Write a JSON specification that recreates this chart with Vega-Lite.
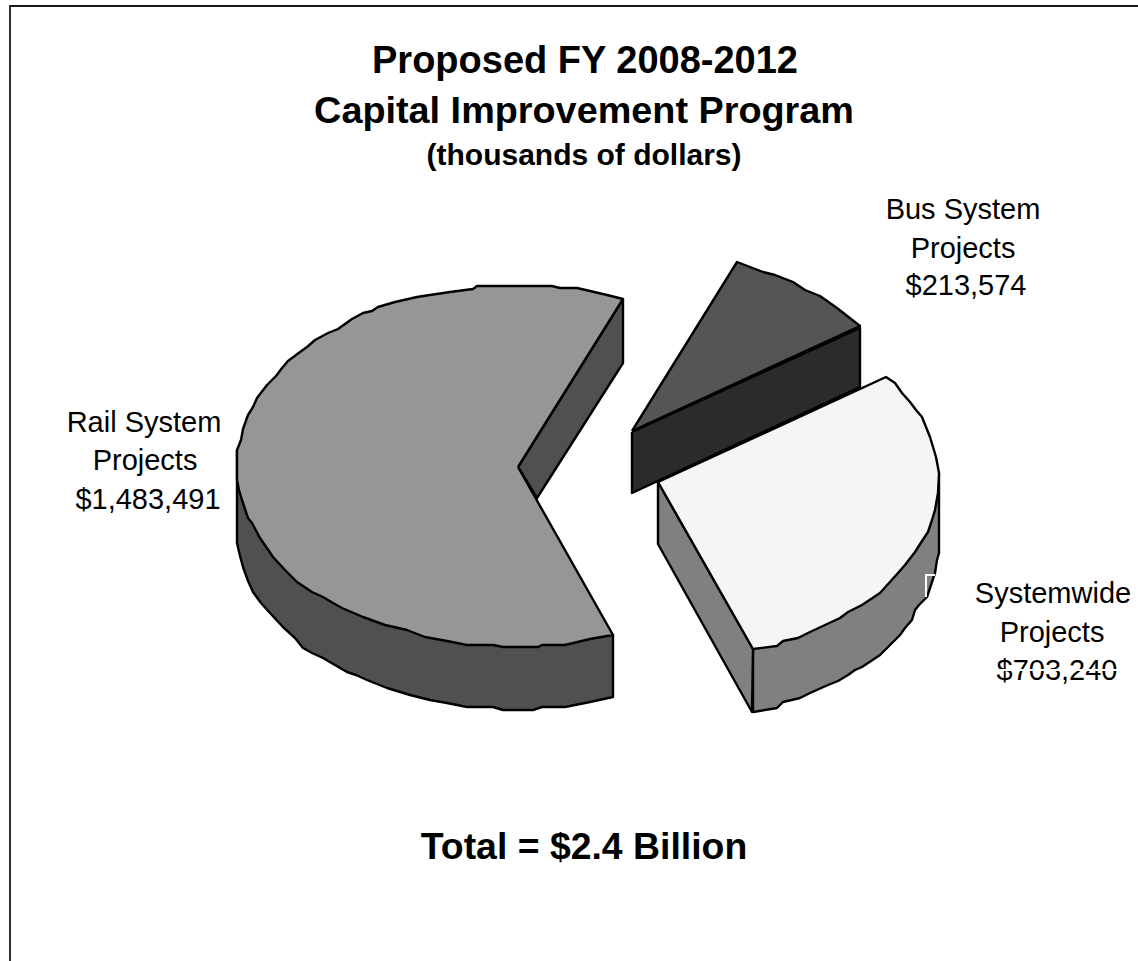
{
  "$schema": "https://vega.github.io/schema/vega-lite/v6.json",
  "autosize": "none",
  "width": 1138,
  "height": 961,
  "padding": 0,
  "background": "white",
  "view": {"stroke": null},
  "datasets": {
    "faces": [
      {"face": "railOuter", "i": 1, "x": 237, "y": 450},
      {"face": "railOuter", "i": 2, "x": 237, "y": 543},
      {"face": "railOuter", "i": 3, "x": 240, "y": 556},
      {"face": "railOuter", "i": 4, "x": 243, "y": 567},
      {"face": "railOuter", "i": 5, "x": 248, "y": 581},
      {"face": "railOuter", "i": 6, "x": 253, "y": 592},
      {"face": "railOuter", "i": 7, "x": 261, "y": 603},
      {"face": "railOuter", "i": 8, "x": 270, "y": 613},
      {"face": "railOuter", "i": 9, "x": 283, "y": 627},
      {"face": "railOuter", "i": 10, "x": 295, "y": 638},
      {"face": "railOuter", "i": 11, "x": 303, "y": 648},
      {"face": "railOuter", "i": 12, "x": 312, "y": 653},
      {"face": "railOuter", "i": 13, "x": 323, "y": 658},
      {"face": "railOuter", "i": 14, "x": 335, "y": 665},
      {"face": "railOuter", "i": 15, "x": 347, "y": 672},
      {"face": "railOuter", "i": 16, "x": 356, "y": 675},
      {"face": "railOuter", "i": 17, "x": 367, "y": 680},
      {"face": "railOuter", "i": 18, "x": 387, "y": 688},
      {"face": "railOuter", "i": 19, "x": 397, "y": 691},
      {"face": "railOuter", "i": 20, "x": 410, "y": 695},
      {"face": "railOuter", "i": 21, "x": 430, "y": 700},
      {"face": "railOuter", "i": 22, "x": 447, "y": 703},
      {"face": "railOuter", "i": 23, "x": 467, "y": 707},
      {"face": "railOuter", "i": 24, "x": 493, "y": 707},
      {"face": "railOuter", "i": 25, "x": 503, "y": 710},
      {"face": "railOuter", "i": 26, "x": 533, "y": 710},
      {"face": "railOuter", "i": 27, "x": 542, "y": 707},
      {"face": "railOuter", "i": 28, "x": 565, "y": 707},
      {"face": "railOuter", "i": 29, "x": 590, "y": 702},
      {"face": "railOuter", "i": 30, "x": 613, "y": 697},
      {"face": "railOuter", "i": 31, "x": 613, "y": 635},
      {"face": "railOuter", "i": 32, "x": 237, "y": 450},

      {"face": "railInner", "i": 1, "x": 623, "y": 299},
      {"face": "railInner", "i": 2, "x": 623, "y": 363},
      {"face": "railInner", "i": 3, "x": 537, "y": 498},
      {"face": "railInner", "i": 4, "x": 518, "y": 467},
      {"face": "railInner", "i": 5, "x": 623, "y": 299},

      {"face": "railTop", "i": 1, "x": 518, "y": 467},
      {"face": "railTop", "i": 2, "x": 623, "y": 299},
      {"face": "railTop", "i": 3, "x": 607, "y": 295},
      {"face": "railTop", "i": 4, "x": 590, "y": 291},
      {"face": "railTop", "i": 5, "x": 577, "y": 288},
      {"face": "railTop", "i": 6, "x": 560, "y": 288},
      {"face": "railTop", "i": 7, "x": 552, "y": 286},
      {"face": "railTop", "i": 8, "x": 477, "y": 286},
      {"face": "railTop", "i": 9, "x": 473, "y": 289},
      {"face": "railTop", "i": 10, "x": 450, "y": 292},
      {"face": "railTop", "i": 11, "x": 430, "y": 295},
      {"face": "railTop", "i": 12, "x": 417, "y": 297},
      {"face": "railTop", "i": 13, "x": 395, "y": 302},
      {"face": "railTop", "i": 14, "x": 378, "y": 307},
      {"face": "railTop", "i": 15, "x": 372, "y": 311},
      {"face": "railTop", "i": 16, "x": 363, "y": 313},
      {"face": "railTop", "i": 17, "x": 352, "y": 319},
      {"face": "railTop", "i": 18, "x": 338, "y": 329},
      {"face": "railTop", "i": 19, "x": 328, "y": 333},
      {"face": "railTop", "i": 20, "x": 315, "y": 340},
      {"face": "railTop", "i": 21, "x": 307, "y": 347},
      {"face": "railTop", "i": 22, "x": 300, "y": 352},
      {"face": "railTop", "i": 23, "x": 288, "y": 361},
      {"face": "railTop", "i": 24, "x": 282, "y": 368},
      {"face": "railTop", "i": 25, "x": 276, "y": 376},
      {"face": "railTop", "i": 26, "x": 267, "y": 385},
      {"face": "railTop", "i": 27, "x": 257, "y": 398},
      {"face": "railTop", "i": 28, "x": 253, "y": 407},
      {"face": "railTop", "i": 29, "x": 248, "y": 415},
      {"face": "railTop", "i": 30, "x": 243, "y": 429},
      {"face": "railTop", "i": 31, "x": 241, "y": 440},
      {"face": "railTop", "i": 32, "x": 237, "y": 450},
      {"face": "railTop", "i": 33, "x": 237, "y": 480},
      {"face": "railTop", "i": 34, "x": 239, "y": 490},
      {"face": "railTop", "i": 35, "x": 242, "y": 500},
      {"face": "railTop", "i": 36, "x": 248, "y": 518},
      {"face": "railTop", "i": 37, "x": 252, "y": 523},
      {"face": "railTop", "i": 38, "x": 260, "y": 538},
      {"face": "railTop", "i": 39, "x": 273, "y": 557},
      {"face": "railTop", "i": 40, "x": 285, "y": 570},
      {"face": "railTop", "i": 41, "x": 297, "y": 582},
      {"face": "railTop", "i": 42, "x": 312, "y": 592},
      {"face": "railTop", "i": 43, "x": 323, "y": 597},
      {"face": "railTop", "i": 44, "x": 333, "y": 603},
      {"face": "railTop", "i": 45, "x": 342, "y": 608},
      {"face": "railTop", "i": 46, "x": 363, "y": 617},
      {"face": "railTop", "i": 47, "x": 385, "y": 625},
      {"face": "railTop", "i": 48, "x": 407, "y": 630},
      {"face": "railTop", "i": 49, "x": 425, "y": 637},
      {"face": "railTop", "i": 50, "x": 447, "y": 641},
      {"face": "railTop", "i": 51, "x": 467, "y": 645},
      {"face": "railTop", "i": 52, "x": 493, "y": 645},
      {"face": "railTop", "i": 53, "x": 503, "y": 647},
      {"face": "railTop", "i": 54, "x": 538, "y": 647},
      {"face": "railTop", "i": 55, "x": 542, "y": 645},
      {"face": "railTop", "i": 56, "x": 565, "y": 645},
      {"face": "railTop", "i": 57, "x": 590, "y": 639},
      {"face": "railTop", "i": 58, "x": 613, "y": 635},
      {"face": "railTop", "i": 59, "x": 518, "y": 467},

      {"face": "busFront", "i": 1, "x": 632, "y": 432},
      {"face": "busFront", "i": 2, "x": 860, "y": 328},
      {"face": "busFront", "i": 3, "x": 860, "y": 387},
      {"face": "busFront", "i": 4, "x": 632, "y": 493},
      {"face": "busFront", "i": 5, "x": 632, "y": 432},

      {"face": "busTop", "i": 1, "x": 632, "y": 431},
      {"face": "busTop", "i": 2, "x": 737, "y": 262},
      {"face": "busTop", "i": 3, "x": 763, "y": 272},
      {"face": "busTop", "i": 4, "x": 775, "y": 275},
      {"face": "busTop", "i": 5, "x": 793, "y": 282},
      {"face": "busTop", "i": 6, "x": 805, "y": 290},
      {"face": "busTop", "i": 7, "x": 820, "y": 296},
      {"face": "busTop", "i": 8, "x": 837, "y": 308},
      {"face": "busTop", "i": 9, "x": 860, "y": 326},
      {"face": "busTop", "i": 10, "x": 632, "y": 431},

      {"face": "sysOuter", "i": 1, "x": 939, "y": 473},
      {"face": "sysOuter", "i": 2, "x": 939, "y": 553},
      {"face": "sysOuter", "i": 3, "x": 937, "y": 560},
      {"face": "sysOuter", "i": 4, "x": 935, "y": 573},
      {"face": "sysOuter", "i": 5, "x": 931, "y": 585},
      {"face": "sysOuter", "i": 6, "x": 927, "y": 597},
      {"face": "sysOuter", "i": 7, "x": 919, "y": 605},
      {"face": "sysOuter", "i": 8, "x": 915, "y": 610},
      {"face": "sysOuter", "i": 9, "x": 912, "y": 620},
      {"face": "sysOuter", "i": 10, "x": 905, "y": 628},
      {"face": "sysOuter", "i": 11, "x": 900, "y": 635},
      {"face": "sysOuter", "i": 12, "x": 890, "y": 645},
      {"face": "sysOuter", "i": 13, "x": 880, "y": 655},
      {"face": "sysOuter", "i": 14, "x": 862, "y": 667},
      {"face": "sysOuter", "i": 15, "x": 855, "y": 670},
      {"face": "sysOuter", "i": 16, "x": 848, "y": 675},
      {"face": "sysOuter", "i": 17, "x": 838, "y": 681},
      {"face": "sysOuter", "i": 18, "x": 828, "y": 685},
      {"face": "sysOuter", "i": 19, "x": 810, "y": 693},
      {"face": "sysOuter", "i": 20, "x": 800, "y": 698},
      {"face": "sysOuter", "i": 21, "x": 783, "y": 702},
      {"face": "sysOuter", "i": 22, "x": 777, "y": 708},
      {"face": "sysOuter", "i": 23, "x": 753, "y": 712},
      {"face": "sysOuter", "i": 24, "x": 753, "y": 649},
      {"face": "sysOuter", "i": 25, "x": 939, "y": 473},

      {"face": "sysInner", "i": 1, "x": 658, "y": 482},
      {"face": "sysInner", "i": 2, "x": 658, "y": 544},
      {"face": "sysInner", "i": 3, "x": 752, "y": 712},
      {"face": "sysInner", "i": 4, "x": 753, "y": 649},
      {"face": "sysInner", "i": 5, "x": 658, "y": 482},

      {"face": "sysTop", "i": 1, "x": 658, "y": 482},
      {"face": "sysTop", "i": 2, "x": 886, "y": 377},
      {"face": "sysTop", "i": 3, "x": 895, "y": 383},
      {"face": "sysTop", "i": 4, "x": 902, "y": 393},
      {"face": "sysTop", "i": 5, "x": 910, "y": 402},
      {"face": "sysTop", "i": 6, "x": 916, "y": 410},
      {"face": "sysTop", "i": 7, "x": 922, "y": 417},
      {"face": "sysTop", "i": 8, "x": 926, "y": 427},
      {"face": "sysTop", "i": 9, "x": 930, "y": 437},
      {"face": "sysTop", "i": 10, "x": 936, "y": 457},
      {"face": "sysTop", "i": 11, "x": 939, "y": 473},
      {"face": "sysTop", "i": 12, "x": 938, "y": 493},
      {"face": "sysTop", "i": 13, "x": 935, "y": 510},
      {"face": "sysTop", "i": 14, "x": 932, "y": 520},
      {"face": "sysTop", "i": 15, "x": 928, "y": 532},
      {"face": "sysTop", "i": 16, "x": 922, "y": 541},
      {"face": "sysTop", "i": 17, "x": 915, "y": 552},
      {"face": "sysTop", "i": 18, "x": 905, "y": 565},
      {"face": "sysTop", "i": 19, "x": 898, "y": 573},
      {"face": "sysTop", "i": 20, "x": 889, "y": 583},
      {"face": "sysTop", "i": 21, "x": 880, "y": 593},
      {"face": "sysTop", "i": 22, "x": 862, "y": 605},
      {"face": "sysTop", "i": 23, "x": 848, "y": 612},
      {"face": "sysTop", "i": 24, "x": 840, "y": 618},
      {"face": "sysTop", "i": 25, "x": 825, "y": 625},
      {"face": "sysTop", "i": 26, "x": 810, "y": 632},
      {"face": "sysTop", "i": 27, "x": 798, "y": 638},
      {"face": "sysTop", "i": 28, "x": 783, "y": 641},
      {"face": "sysTop", "i": 29, "x": 777, "y": 646},
      {"face": "sysTop", "i": 30, "x": 753, "y": 649},
      {"face": "sysTop", "i": 31, "x": 658, "y": 482}
    ],
    "strokes": [
      {"name": "frame", "i": 1, "x": 10, "y": 961},
      {"name": "frame", "i": 2, "x": 10, "y": 6},
      {"name": "frame", "i": 3, "x": 1138, "y": 6},
      {"name": "boxCorner", "i": 1, "x": 935, "y": 575},
      {"name": "boxCorner", "i": 2, "x": 926, "y": 575},
      {"name": "boxCorner", "i": 3, "x": 926, "y": 597},
      {"name": "labelRule", "i": 1, "x": 985, "y": 670},
      {"name": "labelRule", "i": 2, "x": 1120, "y": 670}
    ],
    "labels": [
      {"text": "Proposed FY 2008-2012", "x": 585, "y": 73, "size": 38, "weight": "bold"},
      {"text": "Capital Improvement Program", "x": 584, "y": 123, "size": 37.8, "weight": "bold"},
      {"text": "(thousands of dollars)", "x": 584, "y": 165, "size": 30, "weight": "bold"},
      {"text": "Total = $2.4 Billion", "x": 584, "y": 859, "size": 37.4, "weight": "bold"},
      {"text": "Bus System", "x": 963, "y": 219, "size": 29, "weight": "normal"},
      {"text": "Projects", "x": 963, "y": 258, "size": 29, "weight": "normal"},
      {"text": "$213,574", "x": 966, "y": 295, "size": 29, "weight": "normal"},
      {"text": "Rail System", "x": 144, "y": 432, "size": 29, "weight": "normal"},
      {"text": "Projects", "x": 145, "y": 470, "size": 29, "weight": "normal"},
      {"text": "$1,483,491", "x": 148, "y": 509, "size": 29, "weight": "normal"},
      {"text": "Systemwide", "x": 1053, "y": 603, "size": 29, "weight": "normal"},
      {"text": "Projects", "x": 1052, "y": 642, "size": 29, "weight": "normal"},
      {"text": "$703,240", "x": 1057, "y": 680, "size": 29, "weight": "normal"}
    ]
  },
  "encoding": {
    "x": {"field": "x", "type": "quantitative", "scale": {"domain": [0, 1138], "nice": false, "zero": false}, "axis": null},
    "y": {"field": "y", "type": "quantitative", "scale": {"domain": [961, 0], "nice": false, "zero": false}, "axis": null}
  },
  "layer": [
    {
      "data": {"name": "faces"},
      "mark": {"type": "line", "stroke": "black", "strokeWidth": 2.4, "strokeJoin": "round"},
      "encoding": {
        "order": {"field": "i", "type": "quantitative"},
        "fill": {
          "field": "face",
          "type": "nominal",
          "legend": null,
          "scale": {
            "domain": ["railOuter", "railInner", "railTop", "busFront", "busTop", "sysOuter", "sysInner", "sysTop"],
            "range": ["#505050", "#505050", "#969696", "#2b2b2b", "#555555", "#808080", "#808080", "#f5f5f5"]
          }
        }
      }
    },
    {
      "data": {"name": "labels"},
      "transform": [{"filter": "datum.weight === 'bold'"}],
      "mark": {"type": "text", "font": "Liberation Sans", "fontWeight": "bold", "align": "center", "baseline": "alphabetic", "fill": "black"},
      "encoding": {
        "text": {"field": "text"},
        "size": {"field": "size", "type": "quantitative", "scale": null, "legend": null}
      }
    },
    {
      "data": {"name": "labels"},
      "transform": [{"filter": "datum.weight === 'normal'"}],
      "mark": {"type": "text", "font": "Liberation Sans", "align": "center", "baseline": "alphabetic", "fill": "black"},
      "encoding": {
        "text": {"field": "text"},
        "size": {"field": "size", "type": "quantitative", "scale": null, "legend": null}
      }
    },
    {
      "data": {"name": "strokes"},
      "mark": {"type": "line", "strokeJoin": "miter"},
      "encoding": {
        "order": {"field": "i", "type": "quantitative"},
        "detail": {"field": "name"},
        "stroke": {
          "field": "name",
          "type": "nominal",
          "legend": null,
          "scale": {"domain": ["frame", "boxCorner", "labelRule"], "range": ["#1a1a1a", "white", "white"]}
        },
        "strokeWidth": {
          "field": "name",
          "type": "nominal",
          "legend": null,
          "scale": {"domain": ["frame", "boxCorner", "labelRule"], "range": [1.8, 2, 1]}
        }
      }
    }
  ]
}
